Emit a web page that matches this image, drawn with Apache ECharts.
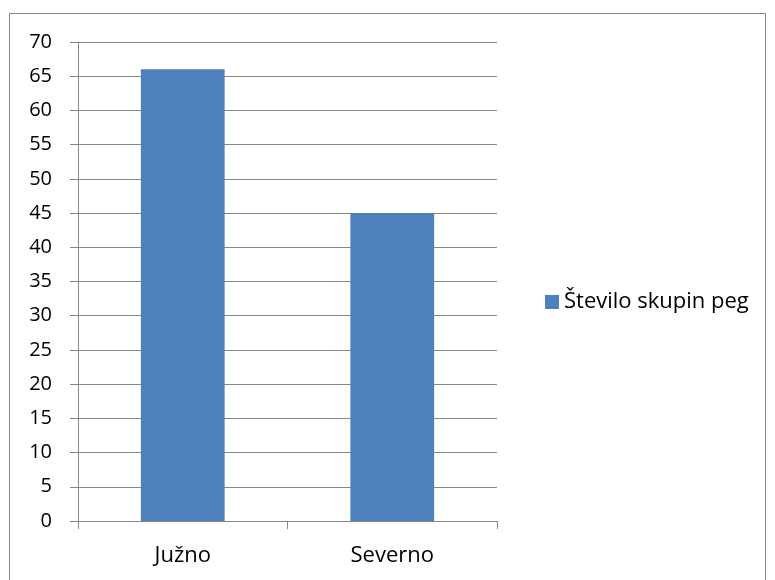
<!DOCTYPE html>
<html>
<head>
<meta charset="utf-8">
<script src="https://cdn.jsdelivr.net/npm/echarts@6/dist/echarts.min.js"></script>
<style>
  html, body { margin: 0; padding: 0; background: #fff; }
  #chart { width: 775px; height: 580px; }
</style>
</head>
<body>
<div id="chart"></div>
<script>
// Število skupin peg po polobli
const categories = ['Južno', 'Severno'];
const seriesName = 'Število skupin peg';
const values = [66, 45];
const yMin = 0, yMax = 70, yStep = 5;

const gray = '#868686';
const font = '"Open Sans", "Noto Sans", sans-serif';

const chart = echarts.init(document.getElementById('chart'));
chart.setOption({
  animation: false,
  backgroundColor: '#fff',
  graphic: [{
    type: 'rect',
    shape: { x: 9.5, y: 13.5, width: 756, height: 580 },
    style: { fill: 'none', stroke: gray, lineWidth: 1 },
    silent: true
  }],
  grid: { left: 78, right: 278, top: 42, bottom: 59, containLabel: false },
  legend: {
    orient: 'vertical',
    left: 540,
    top: 286,
    itemWidth: 14,
    itemHeight: 14,
    itemGap: 6,
    icon: 'rect',
    textStyle: { fontFamily: font, fontSize: 22, color: '#000' },
    data: [seriesName]
  },
  xAxis: {
    type: 'category',
    data: categories,
    axisLine: { lineStyle: { color: gray, width: 1 } },
    axisTick: { show: true, length: 8, lineStyle: { color: gray } },
    axisLabel: { margin: 24, fontFamily: font, fontSize: 22, color: '#000' },
    splitLine: { show: false }
  },
  yAxis: {
    type: 'value',
    min: yMin, max: yMax, interval: yStep,
    axisLine: { show: true, lineStyle: { color: gray, width: 1 } },
    axisTick: { show: true, length: 8, lineStyle: { color: gray } },
    axisLabel: { margin: 26, fontFamily: font, fontSize: 20, color: '#000' },
    splitLine: { show: true, lineStyle: { color: gray, width: 1 } }
  },
  series: [{
    name: seriesName,
    type: 'bar',
    data: values,
    barWidth: '40%',
    itemStyle: { color: '#4F81BD' }
  }]
});
</script>
</body>
</html>
